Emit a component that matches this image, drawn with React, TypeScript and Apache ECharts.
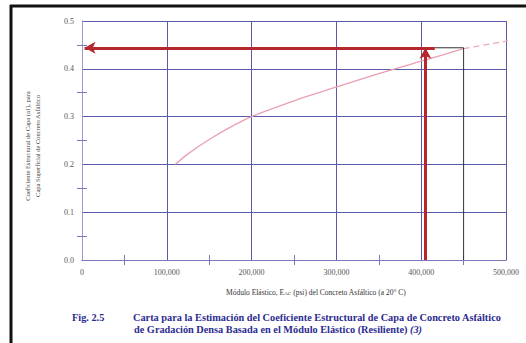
import React, { useEffect, useRef } from "react";
import * as echarts from "echarts";

// Data
const curveX = [110000, 125000, 150000, 175000, 200000, 250000, 300000, 350000, 400000, 450000];
const curveY = [0.2, 0.222, 0.252, 0.278, 0.3, 0.333, 0.362, 0.39, 0.416, 0.442];
const dashX = [450000, 500000, 520000];
const dashY = [0.442, 0.458, 0.465];
const guideX = [416000, 450000, 450000];
const guideY = [0.444, 0.444, 0];
const readModulus = 405000;
const readCoef = 0.444;
const arrowStartX = 416000;
const arrowEndX = 3000;
const xTicks = [0, 100000, 200000, 300000, 400000, 500000];
const yTicks = [0, 0.1, 0.2, 0.3, 0.4, 0.5];

const SERIF = "'Liberation Serif', 'DejaVu Serif', serif";
const GRID = "#5a5aa8";

export default function App() {
  const ref = useRef<HTMLDivElement>(null);
  useEffect(() => {
    if (!ref.current) return;
    const chart = echarts.init(ref.current, null, { renderer: "svg" });
    const xMin = xTicks[0];
    const xMax = xTicks[xTicks.length - 1];
    const yMin = yTicks[0];
    const yMax = yTicks[yTicks.length - 1];
    const baseX = {
      type: "value" as const,
      min: xMin,
      max: xMax,
      interval: 100000,
      splitLine: { show: true, lineStyle: { color: GRID, width: 1 } },
      axisLine: { show: true, lineStyle: { color: "#7a7ab8", width: 1 } },
      axisTick: { show: false, inside: true },
      minorTick: { show: true, splitNumber: 2, length: 5, lineStyle: { color: "#7a7ab8" } },
    };
    const baseY = {
      type: "value" as const,
      min: yMin,
      max: yMax,
      interval: 0.1,
      splitLine: { show: true, lineStyle: { color: GRID, width: 1 } },
      axisLine: { show: true, lineStyle: { color: "#7a7ab8", width: 1 } },
      axisTick: { show: false, inside: true },
      minorTick: { show: true, splitNumber: 2, length: 5, lineStyle: { color: "#7a7ab8" } },
    };
    chart.setOption({
      animation: false,
      backgroundColor: "#ffffff",
      grid: { left: 82, right: 20, top: 21, bottom: 83, containLabel: false },
      xAxis: [
        {
          ...baseX,
          position: "bottom",
          axisLabel: {
            show: true,
            margin: 8,
            fontFamily: SERIF,
            fontSize: 8,
            color: "#555",
            formatter: (v: number) => (v === 0 ? "0" : v.toLocaleString("en-US")),
          },
        },
        { ...baseX, position: "top", axisLabel: { show: false } },
      ],
      yAxis: [
        {
          ...baseY,
          position: "left",
          axisLabel: {
            show: true,
            margin: 8,
            fontFamily: SERIF,
            fontSize: 8,
            color: "#555",
            formatter: (v: number) => v.toFixed(1),
          },
        },
        {
          ...baseY,
          position: "right",
          axisLine: { show: true, lineStyle: { color: "#9a9ad0", width: 1 } },
          axisLabel: { show: false },
        },
      ],
      series: [
        {
          type: "line",
          data: curveX.map((x, i) => [x, curveY[i]]),
          smooth: 0.3,
          showSymbol: false,
          lineStyle: { color: "#e8a0b0", width: 1.3 },
          z: 3,
        },
        {
          type: "line",
          data: dashX.map((x, i) => [x, dashY[i]]),
          showSymbol: false,
          clip: false,
          lineStyle: { color: "#eaaab8", width: 1.3, type: [6, 4] },
          z: 3,
        },
        {
          type: "line",
          data: guideX.map((x, i) => [x, guideY[i]]),
          showSymbol: false,
          lineStyle: { color: "#333", width: 1 },
          z: 4,
        },
        {
          type: "line",
          data: [],
          z: 5,
          markLine: {
            silent: true,
            symbol: ["none", "arrow"],
            symbolSize: [9, 11],
            label: { show: false },
            lineStyle: { color: "#b3282c", width: 3, type: "solid" },
            data: [
              [{ coord: [readModulus, yMin] }, { coord: [readModulus, readCoef] }],
              [{ coord: [arrowStartX, readCoef] }, { coord: [arrowEndX, readCoef] }],
            ],
          },
        },
      ],
      graphic: [
        {
          type: "line",
          shape: { x1: 11, y1: 5, x2: 11, y2: 343 },
          style: { stroke: "#111", lineWidth: 3 },
        },
        {
          type: "line",
          shape: { x1: 10, y1: 6, x2: 526, y2: 6 },
          style: { stroke: "#111", lineWidth: 3 },
        },
        {
          type: "text",
          x: 27,
          y: 146,
          rotation: Math.PI / 2,
          style: {
            text: "Coeficiente Estructural de Capa (a1), para",
            fontFamily: SERIF,
            fontSize: 6.5,
            fill: "#444",
            align: "center",
            verticalAlign: "middle",
          },
        },
        {
          type: "text",
          x: 37,
          y: 146,
          rotation: Math.PI / 2,
          style: {
            text: "Capa Superficial de Concreto Asfáltico",
            fontFamily: SERIF,
            fontSize: 6.5,
            fill: "#444",
            align: "center",
            verticalAlign: "middle",
          },
        },
        {
          type: "text",
          x: 316,
          y: 292,
          style: {
            text: "Módulo Elástico, E{s|AC} (psi) del Concreto Asfáltico (a 20° C)",
            rich: { s: { fontSize: 5, fontFamily: SERIF, fill: "#333", verticalAlign: "bottom" } },
            fontFamily: SERIF,
            fontSize: 7.5,
            fill: "#333",
            align: "center",
            verticalAlign: "middle",
          },
        },
        {
          type: "text",
          x: 72,
          y: 317,
          style: {
            text: "Fig. 2.5",
            fontFamily: SERIF,
            fontSize: 10.3,
            fontWeight: "bold",
            fill: "#2b2b90",
            align: "left",
            verticalAlign: "middle",
          },
        },
        {
          type: "text",
          x: 133,
          y: 317,
          style: {
            text: "Carta para la Estimación del Coeficiente Estructural de Capa de Concreto Asfáltico",
            fontFamily: SERIF,
            fontSize: 10.3,
            fontWeight: "bold",
            fill: "#2b2b90",
            align: "left",
            verticalAlign: "middle",
          },
        },
        {
          type: "text",
          x: 134,
          y: 329,
          style: {
            text: "de Gradación Densa Basada en el Módulo Elástico (Resiliente) {i|(3)}",
            rich: {
              i: { fontFamily: SERIF, fontSize: 10.3, fontStyle: "italic", fontWeight: "bold", fill: "#2b2b90" },
            },
            fontFamily: SERIF,
            fontSize: 10.3,
            fontWeight: "bold",
            fill: "#2b2b90",
            align: "left",
            verticalAlign: "middle",
          },
        },
      ],
    });
    return () => chart.dispose();
  }, []);
  return (
    <div
      ref={ref}
      style={{ position: "fixed", left: 0, top: 0, width: 526, height: 343 }}
    />
  );
}
